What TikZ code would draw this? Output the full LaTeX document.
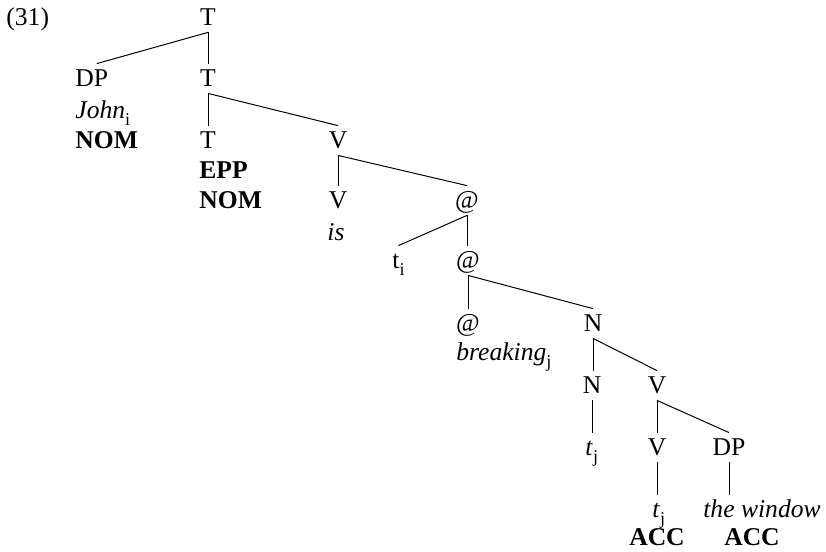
\documentclass[tikz,border=0pt]{standalone}
\usepackage{fontspec}
\setmainfont{Liberation Serif}
\newcommand\lowsub[1]{\raisebox{-3.5pt}{\fontsize{9}{9}\selectfont\upshape #1}}
\begin{document}
\begin{tikzpicture}[x=0.5pt, y=-0.5pt, font=\fontsize{12.8}{15}\selectfont,
  lbl/.style={anchor=base, inner xsep=0pt, inner ysep=1.5pt, text height=9.5pt, text depth=2pt},
  lblw/.style={lbl, anchor=base west},
  br/.style={line width=0.5pt}]
  \useasboundingbox (0,0) rectangle (826,552);
  \node[lblw] (num) at (6,25) {(31)};
  \node[lbl] (t0) at (208,25) {T};
  \node[lblw] (dp1) at (75,86) {DP};
  \node[lbl] (t1) at (208,86) {T};
  \node[lblw] (john) at (75,118) {\textit{John}\lowsub{i}};
  \node[lblw] (nom1) at (75,148) {\textbf{NOM}};
  \node[lbl] (t2) at (208,148) {T};
  \node[lbl] (v1) at (338,148) {V};
  \node[lblw] (epp) at (199,178) {\textbf{EPP}};
  \node[lblw] (nom2) at (199,208) {\textbf{NOM}};
  \node[lbl] (v2) at (338,208) {V};
  \node[lbl] (at1) at (467,208) {@};
  \node[lbl] (is) at (336,240) {\textit{is}};
  \node[lblw] (ti) at (392,268) {t\lowsub{i}};
  \node[lbl] (at2) at (468,268) {@};
  \node[lbl] (at3) at (468,331) {@};
  \node[lbl] (n1) at (593,331) {N};
  \node[lblw] (breaking) at (456,360) {\textit{breaking}\lowsub{j}};
  \node[lbl] (n2) at (592,393) {N};
  \node[lbl] (v3) at (657,393) {V};
  \node[lblw] (tj1) at (585,455) {\textit{t}\lowsub{j}};
  \node[lbl] (v4) at (657,455) {V};
  \node[lbl] (dp2) at (729,455) {DP};
  \node[lblw] (tj2) at (652,517) {\textit{t}\lowsub{j}};
  \node[lbl] (window) at (762,517) {\textit{the window}};
  \node[lbl] (acc1) at (657,545) {\textbf{ACC}};
  \node[lbl] (acc2) at (752,545) {\textbf{ACC}};
  \draw[br] (t0.south) -- ([xshift=2.5pt]dp1.north);
  \draw[br] (t0.south) -- (t0.south |- t1.north);
  \draw[br] (t1.south) -- (t1.south |- t2.north);
  \draw[br] (t1.south) -- (v1.north);
  \draw[br] (v1.south) -- (v1.south |- v2.north);
  \draw[br] (v1.south) -- (at1.north);
  \draw[br] (at1.south) -- (ti.north);
  \draw[br] (at1.south) -- (at1.south |- at2.north);
  \draw[br] (at2.south) -- (at2.south |- at3.north);
  \draw[br] (at2.south) -- (n1.north);
  \draw[br] (n1.south) -- (n1.south |- n2.north);
  \draw[br] (n1.south) -- (v3.north);
  \draw[br] (n2.south) -- (n2.south |- tj1.north);
  \draw[br] (v3.south) -- (v3.south |- v4.north);
  \draw[br] (v3.south) -- (dp2.north);
  \draw[br] (v4.south) -- (v4.south |- tj2.north);
  \draw[br] (dp2.south) -- (dp2.south |- window.north);
\end{tikzpicture}
\end{document}
